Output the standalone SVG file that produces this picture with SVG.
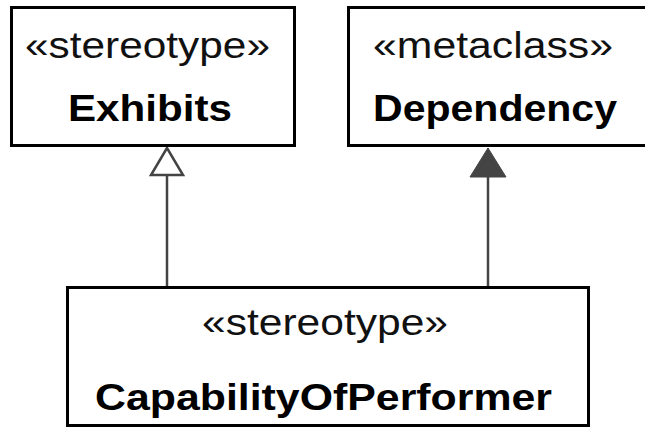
<svg xmlns="http://www.w3.org/2000/svg" width="645" height="429" viewBox="0 0 645 429">
  <style>
    .box { fill: #ffffff; stroke: #000000; stroke-width: 3; }
    .kw { font-family: "Liberation Sans", Arial, sans-serif; font-size: 36px; fill: #111111; }
    .nm { font-family: "Liberation Sans", Arial, sans-serif; font-size: 36px; font-weight: bold; fill: #000000; }
    .edge { stroke: #444444; stroke-width: 2.5; fill: none; }
    .hollow { fill: #ffffff; stroke: #444444; stroke-width: 2.5; stroke-linejoin: miter; }
    .solid { fill: #444444; stroke: #444444; stroke-width: 1; }
  </style>
  <rect width="645" height="429" fill="#ffffff"/>

  <!-- connectors: generalization (hollow head) and extension (filled head) -->
  <g id="connectors">
    <line class="edge" x1="167" y1="287" x2="167" y2="175"/>
    <polygon class="hollow" points="167,148 151,175 183,175"/>
    <line class="edge" x1="488" y1="287" x2="488" y2="176"/>
    <polygon class="solid" points="488,148 470,177 506,177"/>
  </g>

  <g id="exhibits">
    <rect class="box" x="11.5" y="7.5" width="283" height="138"/>
    <text class="kw" x="25" y="58" textLength="245" lengthAdjust="spacingAndGlyphs">«stereotype»</text>
    <text class="nm" x="68" y="121" textLength="164" lengthAdjust="spacingAndGlyphs">Exhibits</text>
  </g>

  <g id="dependency">
    <rect class="box" x="348.5" y="7.5" width="320" height="138"/>
    <text class="kw" x="373" y="58" textLength="240" lengthAdjust="spacingAndGlyphs">«metaclass»</text>
    <text class="nm" x="373" y="121" textLength="244" lengthAdjust="spacingAndGlyphs">Dependency</text>
  </g>

  <g id="capabilityOfPerformer">
    <rect class="box" x="67.5" y="287.5" width="521" height="138"/>
    <text class="kw" x="202" y="335" textLength="246" lengthAdjust="spacingAndGlyphs">«stereotype»</text>
    <text class="nm" x="95" y="410" textLength="457" lengthAdjust="spacingAndGlyphs">CapabilityOfPerformer</text>
  </g>
</svg>
